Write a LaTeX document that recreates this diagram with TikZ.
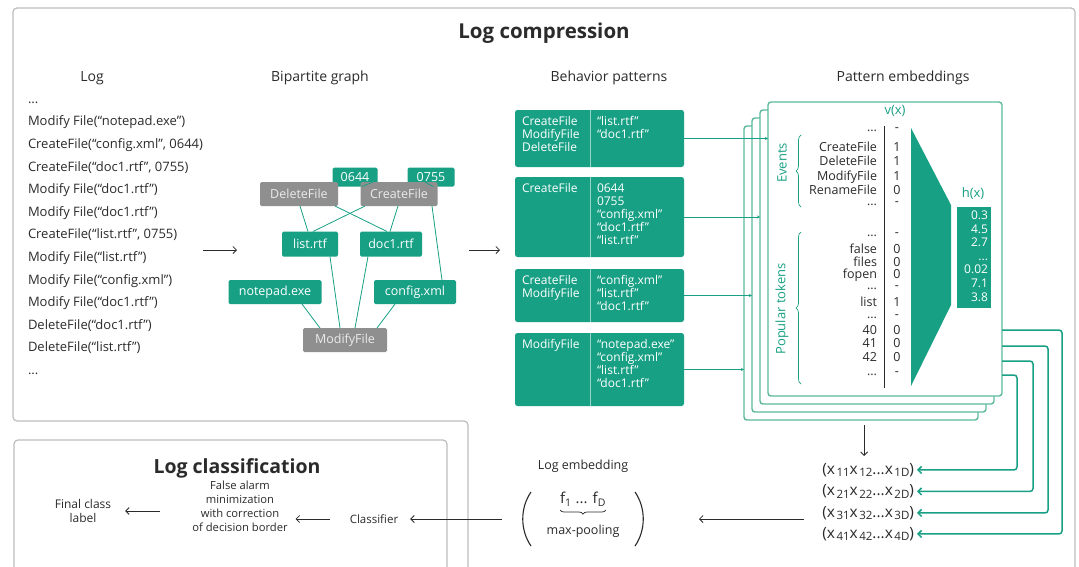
\documentclass[tikz,border=0pt]{standalone}
\usepackage{fontspec}
\setmainfont{Open Sans}
\usetikzlibrary{arrows.meta,calc,decorations.pathreplacing}
\definecolor{ink}{HTML}{2B2B2B}
\definecolor{teal1}{HTML}{17A084}
\definecolor{greybox}{HTML}{8F8F8F}
\definecolor{cardline}{HTML}{5CB99E}
\definecolor{framegrey}{HTML}{BEBEBE}
\newcommand\myfs[2]{\fontsize{#1}{#2}\selectfont}
\newcommand\tdots{...}
\newcommand\xsub[1]{\kern1.5pt\raisebox{-0.35ex}{\fontsize{11.5}{12}\selectfont #1}}
\begin{document}
\begin{tikzpicture}[x=1pt,y=-1pt,
  every node/.style={inner sep=0pt,outer sep=0pt,text=ink},
  hdr/.style={font=\myfs{14}{16}},
  gn/.style={fill=teal1,text=white,font=\myfs{12.5}{14},rounded corners=1.5pt},
  gy/.style={fill=greybox,text=white!92!black,font=\myfs{12.5}{14},rounded corners=1.5pt},
  gedge/.style={teal1,line width=0.8pt},
  arr/.style={ink,line width=0.8pt,-{Straight Barb[length=3.5pt,width=7pt]}},
  garr/.style={teal1,line width=1.5pt,rounded corners=3pt,-{Straight Barb[length=3.5pt,width=7pt]}},
  bpbox/.style={fill=teal1,rounded corners=2.5pt,minimum width=169},
  bptxt/.style={text=white,font=\myfs{12}{13},align=left,anchor=base west},
  card/.style={draw=cardline,fill=white,line width=1.4pt,rounded corners=3pt,minimum width=234,minimum height=294},
  rowlbl/.style={font=\myfs{12.5}{14},anchor=base east},
  rowval/.style={font=\myfs{12.5}{14},anchor=base},
  tl/.style={text=teal1,font=\myfs{13}{15}},
  xrow/.style={font=\myfs{15.5}{17},anchor=base east},
  outline/.style={draw=framegrey,line width=1.2pt,rounded corners=4pt}
]
\useasboundingbox (0,0) rectangle (1079,566);
\clip (0,0) rectangle (1079,566);
\fill[white] (0,0) rectangle (1079,566);

% panel frames
\draw[outline] (1075,572) -- (1075,8) -- (13,8) -- (13,421) -- (468,421) -- (468,572);
\draw[outline] (447,572) -- (447,440) -- (14,440) -- (14,572);

% titles and column headers
\node[font=\bfseries\myfs{20.5}{22}] (title) at (544,33) {Log compression};
\node[hdr] (hLog) at (92,78) {Log};
\node[hdr] (hGraph) at (320,78) {Bipartite graph};
\node[hdr] (hPat) at (609,78) {Behavior patterns};
\node[hdr] (hEmb) at (903,78) {Pattern embeddings};

% event log (anchored on the baseline of its last line)
\node[anchor=base west,align=left,font=\myfs{13}{22.6}] (log) at (28,374.5) {...\\
Modify File(“notepad.exe”)\\
CreateFile(“config.xml”, 0644)\\
CreateFile(“doc1.rtf”, 0755)\\
Modify File(“doc1.rtf”)\\
Modify File(“doc1.rtf”)\\
CreateFile(“list.rtf”, 0755)\\
Modify File(“list.rtf”)\\
Modify File(“config.xml”)\\
Modify File(“doc1.rtf”)\\
DeleteFile(“doc1.rtf”)\\
DeleteFile(“list.rtf”)\\
...};

\coordinate (logOut) at (203,250);
\coordinate (graphIn) at (237,250);
\draw[arr] (logOut) -- (graphIn);

% bipartite graph
\node[gn,minimum width=45,minimum height=19] (v0644) at (355,177) {0644};
\node[gn,minimum width=47,minimum height=19] (v0755) at (431,177) {0755};
\node[gy,minimum width=78,minimum height=24] (vdel) at (299,194) {DeleteFile};
\node[gy,minimum width=77,minimum height=24] (vcre) at (399,194) {CreateFile};
\node[gn,minimum width=56,minimum height=25] (vlist) at (310,244) {list.rtf};
\node[gn,minimum width=62,minimum height=25] (vdoc) at (391,244) {doc1.rtf};
\node[gn,minimum width=93,minimum height=24] (vnote) at (275,292) {notepad.exe};
\node[gn,minimum width=82,minimum height=24] (vconf) at (415,292) {config.xml};
\node[gy,minimum width=84,minimum height=24] (vmod) at (345,340) {ModifyFile};

\draw[gedge] ([xshift=7]v0644.south) -- ([xshift=-26]vcre.north);
\draw[gedge] ([xshift=2]v0755.south) -- ([xshift=26]vcre.north);
\draw[gedge] ([xshift=1]vdel.south) -- ([xshift=-2]vlist.north);
\draw[gedge] ([xshift=36]vdel.south) -- ([xshift=-4]vdoc.north);
\draw[gedge] ([xshift=-34]vcre.south) -- ([xshift=3]vlist.north);
\draw[gedge] ([xshift=-1]vcre.south) -- ([xshift=-1]vdoc.north);
\draw[gedge] ([xshift=33]vcre.south) -- ([xshift=27]vconf.north);
\draw[gedge] ([xshift=20]vlist.south) -- ([xshift=-5]vmod.north);
\draw[gedge] ([xshift=-23]vdoc.south) -- ([xshift=10]vmod.north);
\draw[gedge] ([xshift=27]vnote.south) -- ([xshift=-25]vmod.north);
\draw[gedge] ([xshift=-20]vconf.south) -- ([xshift=32]vmod.north);

\coordinate (graphOut) at (469,250);
\coordinate (patIn) at (500,250);
\draw[arr] (graphOut) -- (patIn);

% behavior patterns
\node[bpbox,minimum height=57] (bp1) at (599.5,138.5) {};
\node[bpbox,minimum height=80] (bp2) at (599.5,217) {};
\node[bpbox,minimum height=53] (bp3) at (599.5,295.5) {};
\node[bpbox,minimum height=73] (bp4) at (599.5,369.5) {};
\foreach \b in {bp1,bp2,bp3,bp4}{
  \draw[white!55!teal1,line width=0.8pt] ([xshift=75]\b.north west) -- ([xshift=75]\b.south west);
}
% text blocks are anchored on the baseline of their last line
\node[bptxt] (bp1l) at ([shift={(7,41)}]bp1.north west) {CreateFile\\ModifyFile\\DeleteFile};
\node[bptxt] (bp1r) at ([shift={(82,28)}]bp1.north west) {“list.rtf”\\“doc1.rtf”};
\node[bptxt] (bp2l) at ([shift={(7,15)}]bp2.north west) {CreateFile};
\node[bptxt] (bp2r) at ([shift={(82,67)}]bp2.north west) {0644\\0755\\“config.xml”\\“doc1.rtf”\\“list.rtf”};
\node[bptxt] (bp3l) at ([shift={(7,28)}]bp3.north west) {CreateFile\\ModifyFile};
\node[bptxt] (bp3r) at ([shift={(82,41)}]bp3.north west) {“config.xml”\\“list.rtf”\\“doc1.rtf”};
\node[bptxt] (bp4l) at ([shift={(7,15)}]bp4.north west) {ModifyFile};
\node[bptxt] (bp4r) at ([shift={(82,54)}]bp4.north west) {“notepad.exe”\\“config.xml”\\“list.rtf”\\“doc1.rtf”};

% stacked pattern embedding cards
\foreach \k in {3,2,1,0}{
  \node[card] (card\k) at (885-8*\k,249+8*\k) {};
}
\draw[gedge,line width=1pt,-{Stealth[length=3pt,width=3pt]}] (bp1.east) -- (bp1.east -| card0.west);
\draw[gedge,line width=1pt,-{Stealth[length=3pt,width=3pt]}] (bp2.east) -- (bp2.east -| card1.west);
\draw[gedge,line width=1pt,-{Stealth[length=3pt,width=3pt]}] (bp3.east) -- (bp3.east -| card2.west);
\draw[gedge,line width=1pt,-{Stealth[length=3pt,width=3pt]}] (bp4.east) -- (bp4.east -| card3.west);

% front card content
\node[tl] (vx) at (895,111) {v(x)};
\node[tl] (hxl) at (973,194) {h(x)};
\draw[ink,line width=0.8pt] (884,126) -- (884,388);
\fill[teal1] (911,128) -- (951,205) -- (951,305) -- (911,386) -- cycle;
\node[fill=teal1,minimum width=34,minimum height=101] (hx) at (974,257.5) {};
\node[anchor=base east,align=right,text=white,font=\myfs{12}{13.6}] (hxv) at ([shift={(-3,94)}]hx.north east) {0.3\\4.5\\2.7\\...\\0.02\\7.1\\3.8};

\foreach \yy/\lab/\val [count=\i] in {
  131/\tdots/-, 151/CreateFile/1, 165/DeleteFile/1, 180/ModifyFile/1, 194/RenameFile/0, 205/\tdots/-,
  236/\tdots/-, 253/false/0, 266/files/0, 278/fopen/0, 289/\tdots/-, 306/list/1, 318/\tdots/-,
  334/40/0, 347/41/0, 361/42/0, 375/\tdots/-}{
  \node[rowlbl] (lab\i) at (877,\yy) {\lab};
  \node[rowval] (val\i) at (897,\yy) {\val};
}
\draw[teal1,line width=0.7pt,decorate,decoration={brace,amplitude=5pt}] (801,207) -- (801,135);
\draw[teal1,line width=0.7pt,decorate,decoration={brace,amplitude=5pt}] (801,384) -- (801,232);
\node[tl,rotate=90] (ev) at (782,163) {Events};
\node[tl,rotate=90] (pt) at (782,309) {Popular tokens};

% per-pattern embedding vectors
\node[xrow] (r1) at (914,474) {(x\xsub{11}x\xsub{12}...x\xsub{1D})};
\node[xrow] (r2) at (914,495.5) {(x\xsub{21}x\xsub{22}...x\xsub{2D})};
\node[xrow] (r3) at (914,517) {(x\xsub{31}x\xsub{32}...x\xsub{3D})};
\node[xrow] (r4) at (914,538) {(x\xsub{41}x\xsub{42}...x\xsub{4D})};

\draw[garr,shorten >=3pt] ([yshift=-81]card0.east) -- ++(60,0) |- (r4.east);
\draw[garr,shorten >=3pt] ([yshift=-97]card0.east) -- ++(46,0) |- (r3.east);
\draw[garr,shorten >=3pt] ([yshift=-112]card0.east) -- ++(31,0) |- (r2.east);
\draw[garr,shorten >=3pt] ([yshift=-126]card0.east) -- ++(15,0) |- (r1.east);

\draw[arr,shorten <=5pt,shorten >=7pt] ([xshift=-4]r1.north |- card3.south) -- ([xshift=-4]r1.north);

% log embedding
\node[font=\myfs{12.5}{14}] (embt) at (583,466) {Log embedding};
\node[minimum width=118,minimum height=56] (emb) at (583,519) {};
\node[font=\myfs{15}{17}] (ff) at (583,499) {f\textsubscript{1} ... f\textsubscript{D}};
\draw[ink,line width=0.7pt,decorate,decoration={brace,mirror,amplitude=4pt}] ([yshift=-4]ff.south west) -- ([yshift=-4]ff.south east);
\node[font=\myfs{12.5}{14}] (mp) at (583,531) {max-pooling};
\draw[ink,line width=1.1pt] (531,492) .. controls (520,508) and (520,530) .. (531,546);
\draw[ink,line width=1.1pt] (635,492) .. controls (646,508) and (646,530) .. (635,546);

\draw[arr,shorten <=18pt,shorten >=57pt] (emb.east -| r4.west) -- (emb.east);

% log classification
\node[font=\bfseries\myfs{19.5}{21}] (lctitle) at (237,468) {Log classification};
\node[font=\myfs{11.5}{13}] (cls) at (374,519) {Classifier};
\node[font=\myfs{11.2}{14}, align=center] (fam) at (240,506) {False alarm\\minimization\\with correction\\of decision border};
\node[font=\myfs{12}{14},align=center] (fin) at (83,511) {Final class\\label};

\draw[arr,shorten <=22pt,shorten >=12pt] (emb.west) -- (cls.east);
\draw[arr,shorten <=20pt,shorten >=8pt] (cls.west) -- (cls.west -| fam.east);
\draw[arr,shorten <=32pt,shorten >=14pt] (fam.west |- fin.east) -- (fin.east);
\end{tikzpicture}
\end{document}
